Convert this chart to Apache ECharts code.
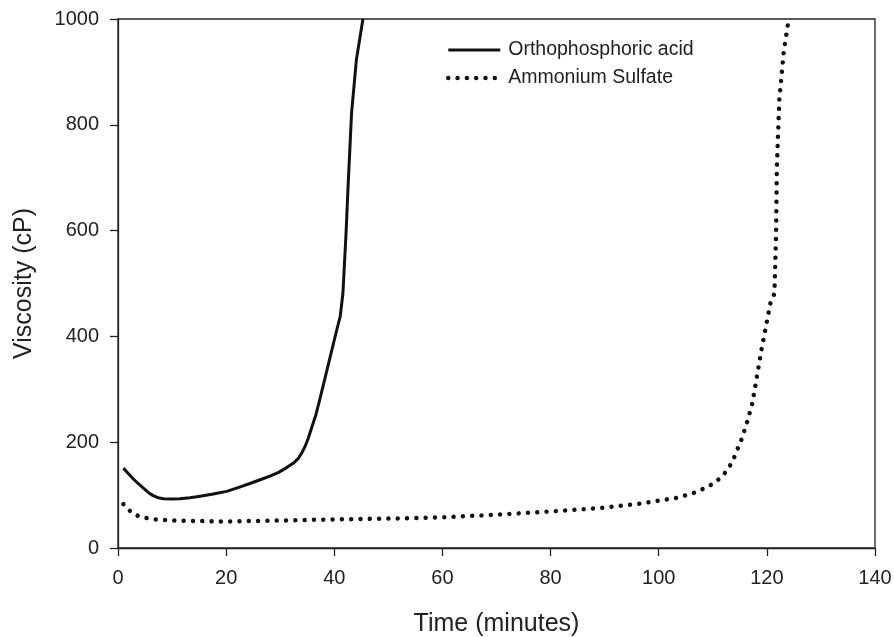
<!DOCTYPE html>
<html>
<head>
<meta charset="utf-8">
<script src="https://cdn.jsdelivr.net/npm/echarts@6/dist/echarts.min.js"></script>
<style>html,body{margin:0;padding:0;background:#fff}#c{width:894px;height:637px}</style>
</head>
<body>
<div id="c"></div>
<script>
// Orthophosphoric acid: [time (min), viscosity (cP)]
var orthoTime = [1, 1.9, 2.8, 3.7, 4.7, 5.6, 6.5, 7.4, 8.4, 10, 11.5, 13.3, 15.2, 17.6, 20.1, 22.2, 24.4, 26.3, 28.1, 29.7, 31.2, 32.4, 33.4, 34.0, 34.6, 35.2, 35.8, 36.6, 37.3, 38.5, 39.5, 40.5, 41.1, 41.6, 42.2, 42.55, 43.2, 44.1, 45.3];
var orthoVisc = [151, 141, 131, 122, 113, 105, 99, 95, 93, 92.5, 93, 95, 98, 102, 107, 114, 122, 129, 136, 143, 152, 160, 170, 180, 192, 208, 227, 252, 280, 330, 372, 414, 438, 482, 600, 684, 823, 924, 1000];
// Ammonium Sulfate
var amsTime = [1, 2.6, 4.3, 7, 10, 15, 19, 25, 30, 40, 52, 60, 70, 80, 89.7, 96.6, 103.4, 106.2, 108.5, 110.3, 111.8, 113.0, 113.9, 115.3, 116.4, 117.3, 119.1, 120.7, 121.4, 121.7, 121.85, 122.3, 123.15, 123.9];
var amsVisc = [83, 66, 58, 54, 52, 51, 50, 51, 52, 54, 56, 58, 63, 69, 76, 84, 95, 103, 113, 123, 136, 152, 170, 205, 240, 273, 380, 465, 481, 594, 720, 847, 941, 990];
var xTicks = [0, 20, 40, 60, 80, 100, 120, 140];
var yTicks = [0, 200, 400, 600, 800, 1000];

function pairs(a, b) { return a.map(function (v, i) { return [v, b[i]]; }); }

var font = 'Arial, "Liberation Sans", sans-serif';
var chart = echarts.init(document.getElementById('c'), null, {renderer: 'canvas'});
chart.setOption({
  animation: false,
  backgroundColor: '#fff',
  grid: {left: 118, right: 19, top: 19, bottom: 89, outerBoundsMode: 'none', containLabel: false,
         show: true, borderColor: '#222', borderWidth: 1.3, backgroundColor: 'transparent'},
  legend: {
    orient: 'vertical', left: 441, top: 35, itemWidth: 52, itemHeight: 14, itemGap: 8,
    itemStyle: {opacity: 0},
    lineStyle: {width: 'inherit'},
    textStyle: {fontFamily: font, fontSize: 19.5, color: '#222', padding: [0, 0, 0, 3]},
    data: ['Orthophosphoric acid', 'Ammonium Sulfate']
  },
  xAxis: {
    type: 'value', min: xTicks[0], max: xTicks[xTicks.length - 1], interval: 20,
    name: 'Time (minutes)', nameLocation: 'middle', nameGap: 64,
    nameTextStyle: {fontFamily: font, fontSize: 25, color: '#222'},
    axisLine: {show: true, lineStyle: {color: '#222', width: 1.3}},
    axisTick: {show: true, length: 8, lineStyle: {color: '#222', width: 1.3}},
    axisLabel: {fontFamily: font, fontSize: 20, color: '#222', margin: 20},
    splitLine: {show: false}
  },
  yAxis: {
    type: 'value', min: yTicks[0], max: yTicks[yTicks.length - 1], interval: 200,
    name: 'Viscosity (cP)', nameLocation: 'middle', nameGap: 81,
    nameTextStyle: {fontFamily: font, fontSize: 25, color: '#222'},
    axisLine: {show: true, lineStyle: {color: '#222', width: 1.3}},
    axisTick: {show: true, length: 8, lineStyle: {color: '#222', width: 1.3}},
    axisLabel: {fontFamily: font, fontSize: 20, color: '#222', margin: 19, formatter: function (v) { return String(v); }},
    splitLine: {show: false}
  },
  series: [
    {
      name: 'Orthophosphoric acid', type: 'line', data: pairs(orthoTime, orthoVisc),
      symbol: 'none', smooth: false,
      lineStyle: {color: '#111', width: 3, join: 'round'}, itemStyle: {color: '#111'}
    },
    {
      name: 'Ammonium Sulfate', type: 'line', data: pairs(amsTime, amsVisc),
      symbol: 'none', smooth: false,
      lineStyle: {color: '#111', width: 4.5, type: [0.01, 9.3], cap: 'round'}, itemStyle: {color: '#111'}
    }
  ]
});
</script>
</body>
</html>
